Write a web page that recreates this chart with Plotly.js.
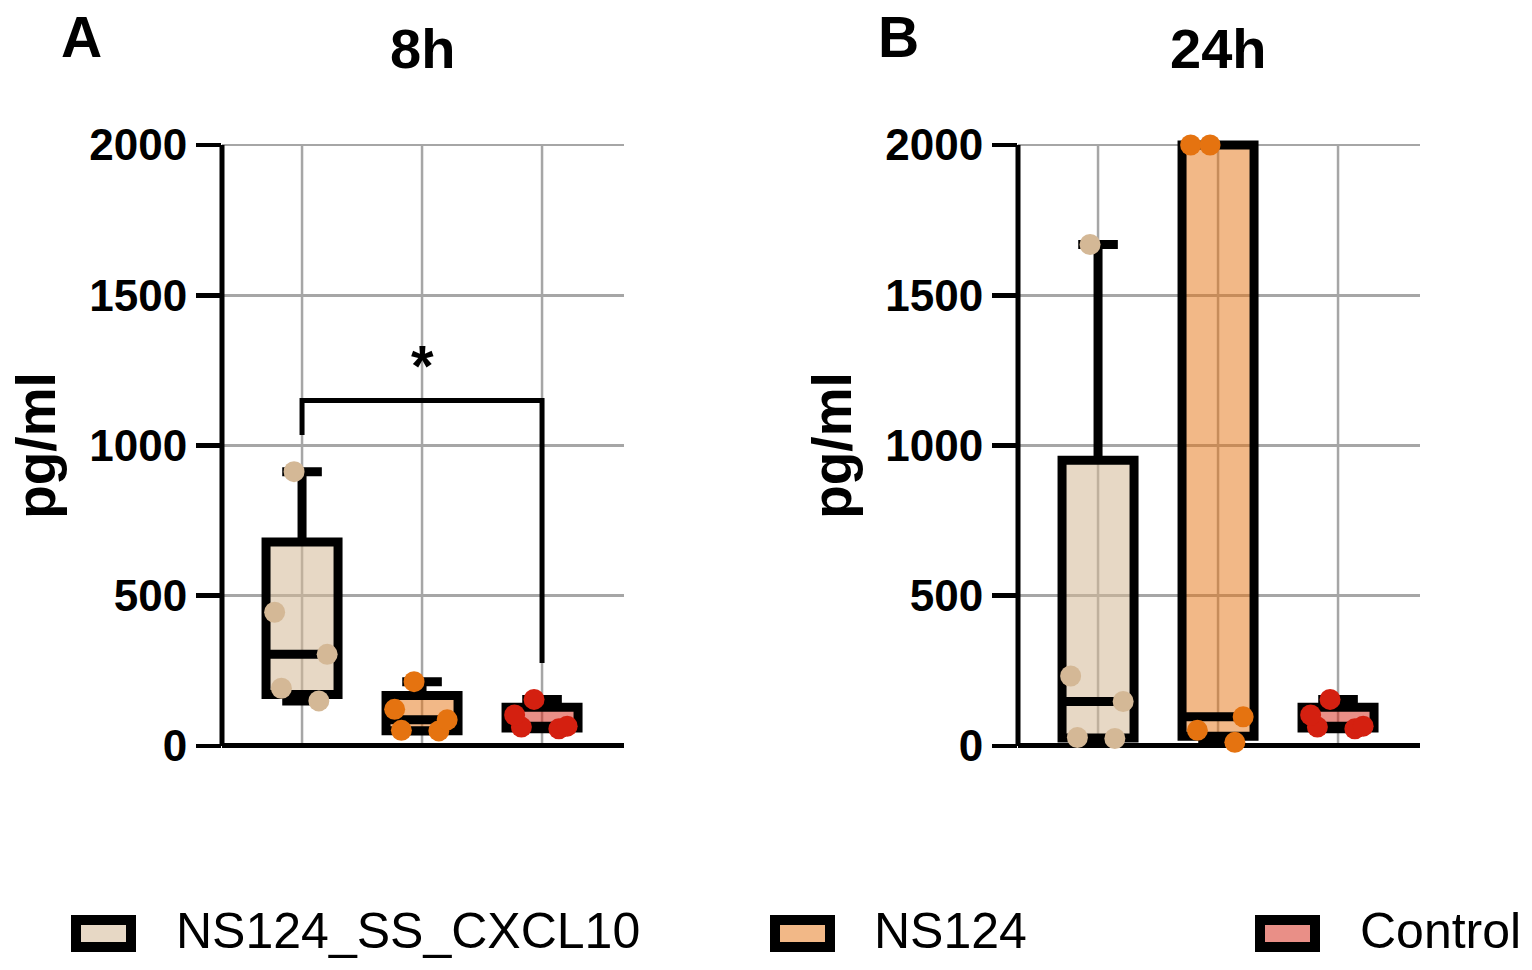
<!DOCTYPE html>
<html>
<head>
<meta charset="utf-8">
<script src="https://cdn.plot.ly/plotly-3.0.1.min.js"></script>
<style>
  html, body { margin: 0; padding: 0; background: #ffffff; }
  #chart { width: 1532px; height: 970px; }
</style>
</head>
<body>
<div id="chart"></div>
<script>
// Treatment groups, drawn left to right in each panel
const groups = ['NS124_SS_CXCL10', 'NS124', 'Control'];

// Panel titles and letters
const panelTitles = ['8h', '24h'];
const panelLetters = ['A', 'B'];

// Measured concentrations (pg/ml), 8 hours
const ssCxcl10_8h = [150, 192, 305, 445, 913];
const ns124_8h    = [50, 52, 87, 122, 214];
const control_8h  = [57, 63, 66, 103, 155];

// Measured concentrations (pg/ml), 24 hours
const ssCxcl10_24h = [25, 28, 148, 233, 1669];
const ns124_24h    = [12, 52, 97, 2000, 2000];
const control_24h  = [57, 63, 66, 103, 155];

// Y axis ticks
const yTicks = [0, 500, 1000, 1500, 2000];

// Significance bracket (8h panel): NS124_SS_CXCL10 vs Control
const sigGroups = ['NS124_SS_CXCL10', 'NS124_SS_CXCL10', 'Control', 'Control'];
const sigY = [1035, 1150, 1150, 276];
const sigLabel = '*';

// ---- styling ----
const FONT = 'Liberation Sans, Arial, Helvetica, sans-serif';
const boxFills = ['rgba(212,184,150,0.55)', 'rgba(229,114,16,0.5)', 'rgba(212,32,16,0.5)'];
const pointColors = ['#D4B896', '#E57310', '#D42010'];
const gridColor = '#a6a6a6';

const panelData = [
  [ssCxcl10_8h, ns124_8h, control_8h],
  [ssCxcl10_24h, ns124_24h, control_24h]
];
const axisIds = [['x', 'y'], ['x2', 'y2']];

const traces = [];
panelData.forEach((sets, p) => {
  sets.forEach((vals, g) => {
    traces.push({
      type: 'box',
      name: groups[g],
      x: vals.map(() => groups[g]),
      y: vals,
      xaxis: axisIds[p][0],
      yaxis: axisIds[p][1],
      boxpoints: 'all',
      jitter: 0.9,
      pointpos: 0,
      quartilemethod: 'exclusive',
      width: 0.6,
      whiskerwidth: 0.55,
      fillcolor: boxFills[g],
      line: { color: '#000000', width: 9 },
      marker: { color: pointColors[g], size: 21, line: { width: 0 } },
      hoverinfo: 'skip',
      showlegend: false
    });
  });
});

// significance bracket
traces.push({
  type: 'scatter',
  mode: 'lines',
  x: sigGroups,
  y: sigY,
  xaxis: 'x',
  yaxis: 'y',
  line: { color: '#000000', width: 5 },
  cliponaxis: false,
  hoverinfo: 'skip',
  showlegend: false
});

const xDomains = [[222 / 1532, 624 / 1532], [1018 / 1532, 1420 / 1532]];
const yDomain = [209 / 970, 840 / 970];

function xAxis(p) {
  return {
    domain: xDomains[p],
    type: 'category',
    categoryorder: 'array',
    categoryarray: groups,
    range: [-0.667, 2.683],
    anchor: axisIds[p][1],
    showgrid: false,
    showticklabels: false,
    ticks: '',
    showline: false,
    zeroline: false,
    fixedrange: true
  };
}
function yAxis(p) {
  return {
    domain: yDomain,
    range: [-50, 2050],
    anchor: axisIds[p][0],
    tickvals: yTicks,
    tickformat: 'd',
    ticks: 'outside',
    ticklen: 25,
    tickwidth: 4.7,
    tickcolor: '#000000',
    tickfont: { family: FONT, size: 44, color: '#000000', weight: 'bold' },
    showgrid: true,
    gridcolor: gridColor,
    gridwidth: 2.5,
    zeroline: true,
    zerolinecolor: '#000000',
    zerolinewidth: 5,
    showline: false,
    title: {
      text: 'pg/ml',
      font: { family: FONT, size: 55, color: '#000000', weight: 'bold' },
      standoff: 16
    },
    fixedrange: true
  };
}

const shapes = [];
const annotations = [];

[0, 1].forEach(p => {
  const xa = axisIds[p][0], ya = axisIds[p][1];
  // vertical grid lines at each group, between 0 and the top tick
  groups.forEach(gName => {
    shapes.push({
      type: 'line', xref: xa, yref: ya,
      x0: gName, x1: gName, y0: yTicks[0], y1: yTicks[yTicks.length - 1],
      line: { color: gridColor, width: 2.5 }, layer: 'below'
    });
  });
  // y axis line
  shapes.push({
    type: 'line', xref: xa + ' domain', yref: ya,
    x0: 0, x1: 0, y0: yTicks[0], y1: yTicks[yTicks.length - 1],
    line: { color: '#000000', width: 5 }
  });
  // panel title over the middle group
  annotations.push({
    text: panelTitles[p], xref: xa, yref: 'paper',
    x: groups[1], y: (970 - 48) / 970,
    xanchor: 'center', yanchor: 'middle', showarrow: false,
    font: { family: FONT, size: 56, color: '#000000', weight: 'bold' }
  });
});

// panel letters
const letterX = [59, 876];
panelLetters.forEach((L, p) => {
  annotations.push({
    text: L, xref: 'paper', yref: 'paper',
    x: letterX[p] / 1532, y: (970 - 37.5) / 970,
    xanchor: 'left', yanchor: 'middle', showarrow: false,
    font: { family: FONT, size: 57, color: '#000000', weight: 'bold' }
  });
});

// significance star above the bracket
annotations.push({
  text: sigLabel, xref: 'x', yref: 'y',
  x: groups[1], y: sigY[1],
  xanchor: 'center', yanchor: 'bottom', showarrow: false,
  font: { family: FONT, size: 58, color: '#000000', weight: 'bold' }
});

// legend row along the bottom
const legSymbolX = [71, 770, 1255];
const legTextX = [174, 872, 1358];
groups.forEach((gName, g) => {
  shapes.push({
    type: 'rect', xref: 'paper', yref: 'paper',
    x0: (legSymbolX[g] + 5) / 1532, x1: (legSymbolX[g] + 60) / 1532,
    y0: (970 - 947) / 970, y1: (970 - 920) / 970,
    line: { color: '#000000', width: 10 },
    fillcolor: boxFills[g]
  });
  annotations.push({
    text: gName, xref: 'paper', yref: 'paper',
    x: legTextX[g] / 1532, y: (970 - 931) / 970,
    xanchor: 'left', yanchor: 'middle', showarrow: false,
    font: { family: FONT, size: 50, color: '#000000' }
  });
});

const layout = {
  width: 1532,
  height: 970,
  margin: { l: 0, r: 0, t: 0, b: 0 },
  paper_bgcolor: '#ffffff',
  plot_bgcolor: '#ffffff',
  showlegend: false,
  xaxis: xAxis(0),
  yaxis: yAxis(0),
  xaxis2: xAxis(1),
  yaxis2: yAxis(1),
  shapes: shapes,
  annotations: annotations
};

Plotly.newPlot('chart', traces, layout, { staticPlot: true, displayModeBar: false });
</script>
</body>
</html>
